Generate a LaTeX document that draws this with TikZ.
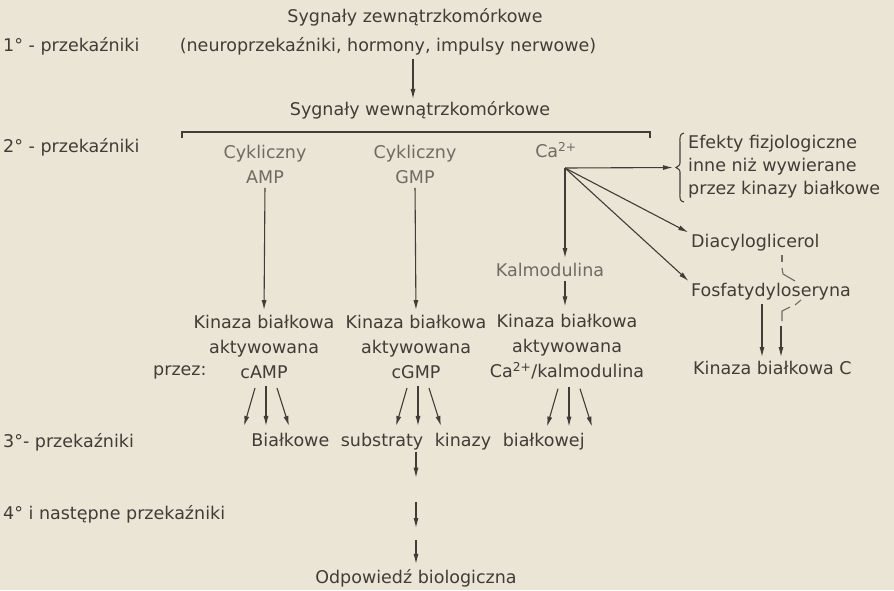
\documentclass[tikz,border=0pt]{standalone}
\usepackage{fontspec}
\setmainfont{DejaVu Sans}
\usetikzlibrary{arrows.meta}
\definecolor{paper}{RGB}{235,229,213}
\definecolor{ink}{RGB}{66,60,57}
\definecolor{inkl}{RGB}{112,106,101}
\begin{document}
\begin{tikzpicture}[x=1pt,y=-1pt,
  txt/.style={inner sep=1pt, text=ink, font=\fontsize{17.5}{25}\selectfont},
  ltxt/.style={txt, text=inkl},
  arr/.style={draw=ink, line width=1.1pt, -{Latex[length=10pt,width=5pt]}},
  ln/.style={draw=ink, line width=1.1pt}]
\fill[paper] (0,0) rectangle (894,590);
\useasboundingbox (0,0) rectangle (894,590);

% level 1
\node[txt] (ext) at (415,17) {Sygnały zewnątrzkomórkowe};
\node[txt] (ext2) at (388,46) {(neuroprzekaźniki, hormony, impulsy nerwowe)};
\node[txt,anchor=west] (l1) at (2,46) {1° - przekaźniki};
\node[txt] (int) at (420,110) {Sygnały wewnątrzkomórkowe};
\draw[arr,shorten <=3pt,shorten >=1pt] ([xshift=25pt]ext2.south) -- ([xshift=25pt]ext2.south |- int.north);

% bar
\coordinate (barL) at (182,138);
\coordinate (barR) at (650,138);
\draw[ln] (barL) -- ++(0,-6) -| (barR);

% level 2
\node[txt,anchor=west] (l2) at (2,147) {2° - przekaźniki};
\node[ltxt,align=center] (amp) at (265,164.5) {Cykliczny\\AMP};
\node[ltxt,align=center] (gmp) at (415,164.5) {Cykliczny\\GMP};
\node[ltxt] (ca) at (556,150) {Ca\textsuperscript{2+}};
\coordinate (caO) at (565,168);

% effects with brace
\node[txt,anchor=west,align=left,font=\fontsize{17.5}{23}\selectfont] (eff) at (687,167) {Efekty fizjologiczne\\inne niż wywierane\\przez kinazy białkowe};
\coordinate (brT) at (676,167.5);
\draw[ln] (684,133) .. controls (679,134) and (680,138) .. (680,145) -- (680,161)
  .. controls (680,165) .. (brT) .. controls (680,170) .. (680,174) -- (680,191)
  .. controls (680,198) and (679,201) .. (684,202);
\draw[arr,shorten >=3pt] (caO) -- (brT);

\node[txt,anchor=west] (dia) at (690,243) {Diacyloglicerol};
\node[txt,anchor=west] (fos) at (690,292) {Fosfatydyloseryna};
\draw[arr,shorten >=2pt] (caO) -- (dia.north west);
\draw[arr,shorten >=2pt] (caO) -- (fos.north west);
\node[ltxt] (kal) at (550,270) {Kalmodulina};
\draw[arr,shorten >=4pt] (caO) -- (caO |- kal.north);

% hook between Diacyloglicerol and Fosfatydyloseryna
\draw[ln,draw=inkl] (782,255) -- (782,262);
\draw[ln,draw=inkl] (782,268) -- (783,274) -- (795,281);

% kinases
\node[txt,align=center] (kA) at (264,347) {Kinaza białkowa\\aktywowana\\cAMP};
\node[txt,align=center] (kG) at (416,347) {Kinaza białkowa\\aktywowana\\cGMP};
\node[txt,align=center] (kC) at (567,347) {Kinaza białkowa\\aktywowana\\Ca\textsuperscript{2+}/kalmodulina};
\node[txt,anchor=west] (prz) at (152,372) {przez:};
\draw[arr,shorten <=3pt,shorten >=4pt] (amp.south) -- (kA.north);
\draw[arr,shorten <=3pt,shorten >=4pt] (gmp.south) -- (kG.north);
\draw[arr,shorten <=3pt,shorten >=7pt] ([xshift=15pt]kal.south) -- ([xshift=15pt]kal.south |- kC.north);

% protein kinase C
\node[txt,anchor=west] (pkc) at (692,368) {Kinaza białkowa C};
\coordinate (f1) at (762,304);
\coordinate (f2) at (781,326);
\draw[arr,shorten >=3pt] (f1) -- (f1 |- pkc.north);
\draw[arr,shorten >=3pt] (f2) -- (f2 |- pkc.north);
\draw[ln,draw=inkl] (782,321) -- (782,311) -- (790,307);
\draw[ln,draw=inkl] (795,305) -- (801,300);

% fans
\foreach \n in {kA,kG,kC}{
  \draw[arr] ([xshift=-9pt,yshift=-8pt]\n.south) -- ([xshift=-20pt,yshift=-46pt]\n.south);
  \draw[arr] ([xshift=2pt,yshift=-6pt]\n.south) -- ([xshift=2pt,yshift=-46pt]\n.south);
  \draw[arr] ([xshift=13pt,yshift=-8pt]\n.south) -- ([xshift=25pt,yshift=-46pt]\n.south);
}

% level 3 and 4
\node[txt,anchor=west] (l3) at (2,442) {3°- przekaźniki};
\node[txt] (sub) at (418,442) {Białkowe\hspace{6pt} substraty\hspace{6pt} kinazy\hspace{6pt} białkowej};
\node[txt,anchor=west] (l4) at (2,514) {4° i następne przekaźniki};
\node[txt] (odp) at (416,578) {Odpowiedź biologiczna};
\draw[arr] (sub.south -| odp.north) -- ++(0,26);
\draw[arr] ([yshift=12pt]l4.center -| odp.north) -- ++(0,26);
\draw[arr,shorten >=4pt] ([yshift=28pt]odp.north) -- (odp.north);
\end{tikzpicture}
\end{document}
